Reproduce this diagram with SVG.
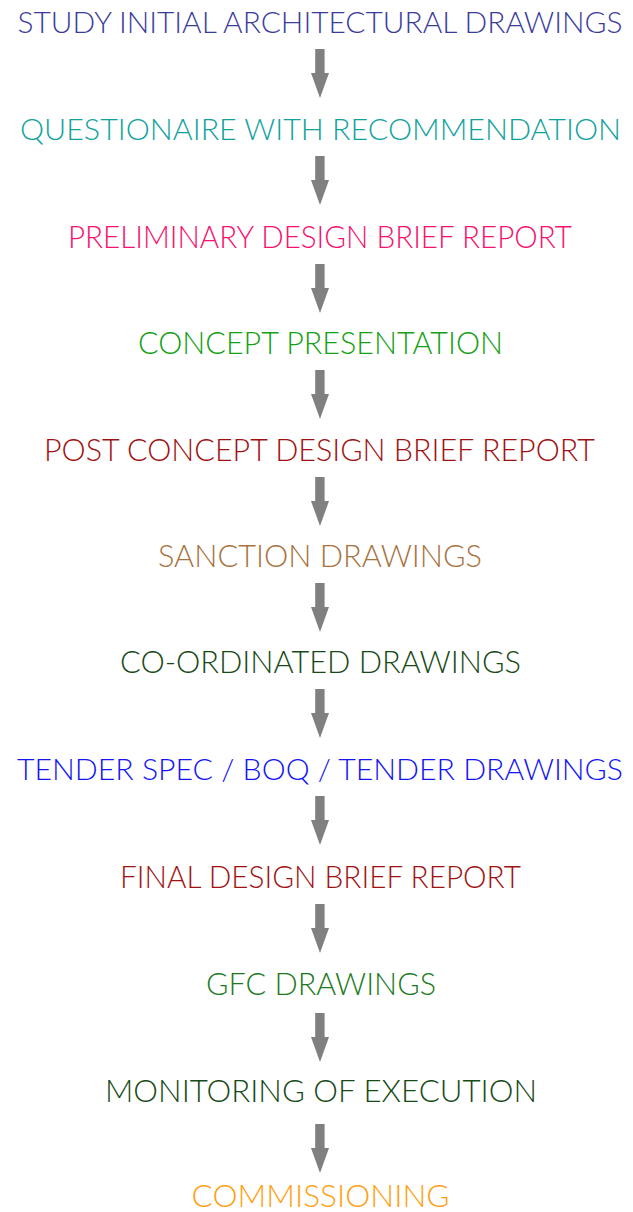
<svg xmlns="http://www.w3.org/2000/svg" width="633" height="1212" viewBox="0 0 633 1212">
<defs>
<style>
text{font-family:"Lato","Open Sans","Liberation Sans",sans-serif;font-weight:300;font-size:31px;text-anchor:middle}
.long{font-size:29px}
.arrow{fill:#808080}
</style>
<path id="arr" class="arrow" d="M315.2,0 H324.6 V24 H329 L320,49 L311,24 H315.2 Z"/>
</defs>
<rect width="633" height="1212" fill="#ffffff"/>
<g id="connectors">
<use href="#arr" y="49"/>
<use href="#arr" y="156"/>
<use href="#arr" y="264"/>
<use href="#arr" y="370"/>
<use href="#arr" y="477"/>
<use href="#arr" y="583"/>
<use href="#arr" y="689"/>
<use href="#arr" y="796"/>
<use href="#arr" y="904"/>
<use href="#arr" y="1013"/>
<use href="#arr" y="1124"/>
</g>
<g id="n1"><text class="long" x="320" y="33" fill="#3b3b9c" textLength="605" lengthAdjust="spacingAndGlyphs">STUDY INITIAL ARCHITECTURAL DRAWINGS</text></g>
<g id="n2"><text class="long" x="320.5" y="140" fill="#12a29e" textLength="601" lengthAdjust="spacingAndGlyphs">QUESTIONAIRE WITH RECOMMENDATION</text></g>
<g id="n3"><text x="320" y="247.5" fill="#f5136f" textLength="504" lengthAdjust="spacingAndGlyphs">PRELIMINARY DESIGN BRIEF REPORT</text></g>
<g id="n4"><text x="320.5" y="354" fill="#15a015" textLength="365" lengthAdjust="spacingAndGlyphs">CONCEPT PRESENTATION</text></g>
<g id="n5"><text x="319.5" y="461" fill="#a01212" textLength="551" lengthAdjust="spacingAndGlyphs">POST CONCEPT DESIGN BRIEF REPORT</text></g>
<g id="n6"><text x="320" y="567" fill="#a8733f" textLength="324" lengthAdjust="spacingAndGlyphs">SANCTION DRAWINGS</text></g>
<g id="n7"><text x="320.5" y="673" fill="#184a18" textLength="401" lengthAdjust="spacingAndGlyphs">CO-ORDINATED DRAWINGS</text></g>
<g id="n8"><text class="long" x="320" y="780" fill="#1414f5" textLength="606" lengthAdjust="spacingAndGlyphs">TENDER SPEC / BOQ / TENDER DRAWINGS</text></g>
<g id="n9"><text x="320.5" y="888" fill="#a01212" textLength="401" lengthAdjust="spacingAndGlyphs">FINAL DESIGN BRIEF REPORT</text></g>
<g id="n10"><text x="321" y="995" fill="#1e7a1e" textLength="230" lengthAdjust="spacingAndGlyphs">GFC DRAWINGS</text></g>
<g id="n11"><text x="321" y="1102" fill="#184a18" textLength="432" lengthAdjust="spacingAndGlyphs">MONITORING OF EXECUTION</text></g>
<g id="n12"><text x="320.5" y="1207" fill="#ff9f12" textLength="258" lengthAdjust="spacingAndGlyphs">COMMISSIONING</text></g>
</svg>
